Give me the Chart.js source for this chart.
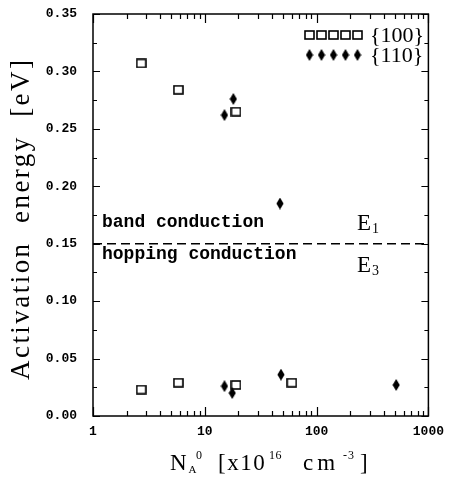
<!DOCTYPE html>
<html>
<head>
<meta charset="utf-8">
<script src="https://cdn.jsdelivr.net/npm/chart.js@4/dist/chart.umd.min.js"></script>
<style>
  html, body { margin: 0; padding: 0; background: #fff; }
  #wrap { width: 452px; height: 479px; position: relative; }
</style>
</head>
<body>
<div id="wrap"><canvas id="c" width="452" height="479"></canvas></div>
<script>
// ---------- data ----------
const series100Name = '{100}';
const series110Name = '{110}';
const orient100X = [2.7, 5.8, 19, 2.7, 5.8, 19, 60];
const orient100Y = [0.307, 0.284, 0.265, 0.023, 0.029, 0.027, 0.029];
const orient110X = [15, 18, 47, 15, 17.6, 48, 515];
const orient110Y = [0.262, 0.276, 0.185, 0.026, 0.020, 0.036, 0.027];
const boundaryX = [1, 1000];
const boundaryY = [0.15, 0.15];
const xTickValues = [1, 10, 100, 1000];
const xTickLabels = ['1', '10', '100', '1000'];
const yTickValues = [0, 0.05, 0.10, 0.15, 0.20, 0.25, 0.30, 0.35];
const yTickLabels = ['0.00', '0.05', '0.10', '0.15', '0.20', '0.25', '0.30', '0.35'];
const yTitle = 'Activation  energy  [eV]';
const xTitleParts = ['N', 'A', '0', '[x10', '16', 'cm', '-3', ']'];
const upperLabel = 'band conduction';
const lowerLabel = 'hopping conduction';
const upperE = ['E', '1'];
const lowerE = ['E', '3'];

// ---------- marker images ----------
function squareImg() {
  const c = document.createElement('canvas');
  c.width = 11; c.height = 10;
  const g = c.getContext('2d');
  g.strokeStyle = '#000'; g.lineWidth = 1.6;
  g.strokeRect(1, 1, 9, 8);
  return c;
}
function diamondImg() {
  const c = document.createElement('canvas');
  c.width = 8; c.height = 12;
  const g = c.getContext('2d');
  g.fillStyle = '#000';
  g.beginPath();
  g.moveTo(4, 0); g.lineTo(7.6, 6); g.lineTo(4, 12); g.lineTo(0.4, 6); g.closePath();
  g.fill();
  return c;
}
const SQ = squareImg();
const DI = diamondImg();

const pts = (xs, ys) => xs.map((x, i) => ({ x, y: ys[i] }));

const MONO = '"Liberation Mono", "DejaVu Sans Mono", monospace';
const SERIF = '"Liberation Serif", "DejaVu Serif", serif';

const decor = {
  id: 'decor',
  beforeDatasetsDraw(chart) {
    const ctx = chart.ctx;
    const a = chart.chartArea;
    const xs = chart.scales.x, ys = chart.scales.y;
    ctx.save();
    ctx.strokeStyle = '#000';
    ctx.lineWidth = 1.5;
    ctx.strokeRect(a.left, a.top, a.right - a.left, a.bottom - a.top);
    ctx.lineWidth = 1.2;
    ctx.beginPath();
    // y ticks
    for (let v = 0; v <= 0.35001; v += 0.025) {
      const y = Math.round(ys.getPixelForValue(v)) + 0.5;
      const major = Math.abs(v / 0.05 - Math.round(v / 0.05)) < 1e-6;
      const L = major ? 7 : 4;
      ctx.moveTo(a.left, y); ctx.lineTo(a.left + L, y);
      ctx.moveTo(a.right, y); ctx.lineTo(a.right - L, y);
    }
    // x ticks
    for (let d = 1; d <= 100; d *= 10) {
      for (let m = 1; m <= 10; m++) {
        const v = d * m;
        const x = Math.round(xs.getPixelForValue(v)) + 0.5;
        const major = (m === 1 || m === 10);
        const L = major ? 9 : 5;
        ctx.moveTo(x, a.bottom); ctx.lineTo(x, a.bottom - L);
        ctx.moveTo(x, a.top); ctx.lineTo(x, a.top + L);
      }
    }
    ctx.stroke();

    ctx.fillStyle = '#000';
    // region labels
    ctx.font = 'bold 18px ' + MONO;
    ctx.textBaseline = 'alphabetic';
    ctx.textAlign = 'left';
    ctx.fillText(upperLabel, 102, 227);
    ctx.fillText(lowerLabel, 102, 259);
    // E labels
    ctx.font = '23px ' + SERIF;
    ctx.fillText(upperE[0], 357, 230);
    ctx.fillText(lowerE[0], 357, 272);
    const ew = ctx.measureText('E').width;
    ctx.font = '14px ' + SERIF;
    ctx.fillText(upperE[1], 357 + ew + 1, 233);
    ctx.fillText(lowerE[1], 357 + ew + 1, 275);

    // legend
    for (let i = 0; i < 5; i++) {
      const cx = 309.5 + i * 12;
      ctx.drawImage(SQ, cx - 5.5, 35 - 5);
      ctx.drawImage(DI, cx - 4, 55 - 6);
    }
    ctx.font = '22px ' + SERIF;
    ctx.textBaseline = 'middle';
    ctx.fillText(series100Name, 370, 36);
    ctx.fillText(series110Name, 370, 56);

    // y title
    ctx.save();
    ctx.translate(29, 220);
    ctx.rotate(-Math.PI / 2);
    ctx.font = '27px ' + SERIF;
    ctx.textBaseline = 'alphabetic';
    ctx.textAlign = 'left';
    const plain = ctx.measureText(yTitle).width;
    const ls = (320 - plain) / (yTitle.length - 1);
    ctx.letterSpacing = ls.toFixed(2) + 'px';
    ctx.fillText(yTitle, -160, 0);
    ctx.restore();

    // x title: N_A^0 [x10^16 cm^-3]
    const base = 470;
    ctx.textBaseline = 'alphabetic';
    ctx.textAlign = 'left';
    const layout = [
      [170, 23, 0, '0px'], [188.5, 11, 3, '0px'], [196, 12, -11, '0px'],
      [218, 23, 0, '1.5px'], [269, 12, -11, '0.5px'], [303, 23, 0, '4px'],
      [343, 12, -11, '1px'], [360, 23, 0, '0px']
    ];
    for (let i = 0; i < xTitleParts.length; i++) {
      const [px, size, dy, lsp] = layout[i];
      ctx.font = size + 'px ' + SERIF;
      ctx.letterSpacing = lsp;
      ctx.fillText(xTitleParts[i], px, base + dy);
    }
    ctx.restore();
  }
};

new Chart(document.getElementById('c'), {
  type: 'scatter',
  data: {
    datasets: [
      { label: series100Name, data: pts(orient100X, orient100Y), pointStyle: SQ, pointRadius: 5, showLine: false },
      { label: series110Name, data: pts(orient110X, orient110Y), pointStyle: DI, pointRadius: 6, showLine: false },
      { label: 'boundary', data: pts(boundaryX, boundaryY), showLine: true, pointRadius: 0,
        borderColor: '#000', borderWidth: 1.5, borderDash: [9, 5], fill: false }
    ]
  },
  plugins: [decor],
  options: {
    responsive: false,
    animation: false,
    devicePixelRatio: 1,
    layout: { padding: { left: 0, right: 20, top: 14, bottom: 0 } },
    plugins: { legend: { display: false }, tooltip: { enabled: false } },
    scales: {
      x: {
        type: 'logarithmic', min: 1, max: 1000,
        afterBuildTicks: s => { s.ticks = xTickValues.map(v => ({ value: v })); },
        afterFit: s => { s.height = 63; },
        grid: { display: false, drawTicks: false },
        border: { display: false },
        ticks: {
          autoSkip: false, maxRotation: 0, padding: 8, color: '#000',
          font: { family: MONO, size: 13, weight: 'bold' },
          callback: (v) => { const i = xTickValues.indexOf(v); return i >= 0 ? xTickLabels[i] : ''; }
        }
      },
      y: {
        type: 'linear', min: 0, max: 0.35,
        afterBuildTicks: s => { s.ticks = yTickValues.map(v => ({ value: v })); },
        afterFit: s => { s.width = 93; },
        grid: { display: true, drawOnChartArea: false, drawTicks: true, tickLength: 16, tickColor: 'rgba(0,0,0,0)', color: 'rgba(0,0,0,0)' },
        border: { display: false },
        ticks: {
          padding: 0, color: '#000',
          font: { family: MONO, size: 13, weight: 'bold' },
          callback: (v, i) => yTickLabels[i]
        }
      }
    }
  }
});
</script>
</body>
</html>
